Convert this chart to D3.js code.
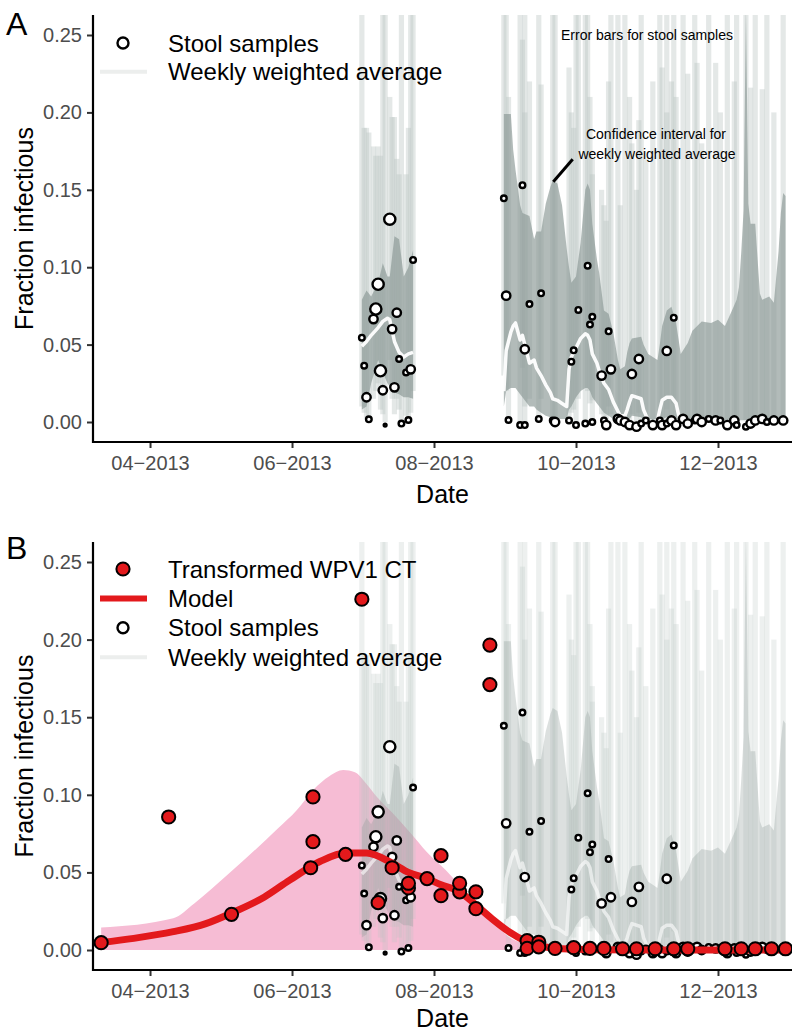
<!DOCTYPE html>
<html><head><meta charset="utf-8">
<script src="https://cdn.jsdelivr.net/npm/d3@7"></script>
<style>
body{margin:0;background:#fff;}
svg{display:block;font-family:"Liberation Sans",Arial,Helvetica,sans-serif;}
</style></head><body>
<svg id="chart" width="796" height="1033"></svg>
<script>
// ---------------- DATA ----------------
const yTicks = [0, 0.05, 0.10, 0.15, 0.20, 0.25];
const xTicks = ["2013-04-01", "2013-06-01", "2013-08-01", "2013-10-01", "2013-12-01"];

// Stool samples: [date, fraction infectious, weight, error-bar low, error-bar high]
const stoolJuly = [
  ["2013-07-01",0.0545,2,0.010,0.30],["2013-07-02",0.0364,2,0.006,0.19],
  ["2013-07-03",0.0160,3,0.002,0.19],["2013-07-04",0.0017,2,0.000,0.187],
  ["2013-07-06",0.0665,3,0.015,0.178],["2013-07-07",0.0730,4,0.020,0.172],
  ["2013-07-08",0.0890,4,0.025,0.178],["2013-07-09",0.0331,4,0.008,0.172],
  ["2013-07-10",0.0205,3,0.005,0.30],["2013-07-11",-0.0020,1,0.000,0.30],
  ["2013-07-13",0.1310,4,0.040,0.21],["2013-07-14",0.0600,3,0.015,0.197],
  ["2013-07-15",0.0224,3,0.005,0.197],["2013-07-16",0.0706,3,0.015,0.170],
  ["2013-07-17",0.0407,2,0.008,0.160],["2013-07-18",-0.0010,2,0.000,0.30],
  ["2013-07-20",0.0320,2,0.004,0.160],["2013-07-21",0.0013,2,0.000,0.190],
  ["2013-07-22",0.0340,3,0.006,0.30],["2013-07-23",0.1047,2,0.020,0.30]
];
const stoolAutumn = [
  ["2013-08-31",0.1445,2,0.030,0.30],["2013-09-01",0.0816,3,0.020,0.30],
  ["2013-09-02",0.0013,2,0,0.21],["2013-09-07",-0.0020,2,0,0.30],
  ["2013-09-08",0.1530,2,0.035,0.247],["2013-09-09",-0.0020,2,0,0.30],
  ["2013-09-09",0.0470,3,0.010,0.20],["2013-09-11",0.0762,2,0.015,0.22],
  ["2013-09-15",0.0020,2,0,0.30],["2013-09-16",0.0831,2,0.015,0.218],
  ["2013-09-21",0.0010,2,0,0.30],["2013-09-22",0.0000,3,0,0.30],
  ["2013-09-28",0.0010,2,0,0.229],["2013-09-29",0.0390,2,0.006,0.20],
  ["2013-09-30",0.0463,2,0.008,0.19],["2013-10-01",-0.0020,2,0,0.30],
  ["2013-10-02",0.0724,2,0.015,0.30],["2013-10-05",-0.0010,2,0,0.30],
  ["2013-10-06",0.1010,2,0.020,0.30],["2013-10-07",0.0630,2,0.012,0.21],
  ["2013-10-08",0.0680,2,0.014,0.17],["2013-10-08",0.0000,2,0,0.16],
  ["2013-10-12",0.0300,3,0.005,0.15],["2013-10-13",0.0010,2,0,0.14],
  ["2013-10-14",-0.0020,3,0,0.13],["2013-10-15",0.0586,2,0.010,0.22],
  ["2013-10-16",0.0340,3,0.005,0.30],["2013-10-19",0.0020,3,0,0.30],
  ["2013-10-20",0.0010,3,0,0.14],["2013-10-22",0.0000,3,0,0.30],
  ["2013-10-24",-0.0020,3,0,0.21],["2013-10-25",0.0310,3,0.005,0.18],
  ["2013-10-27",-0.0030,3,0,0.15],["2013-10-28",0.0407,3,0.006,0.195],
  ["2013-10-29",-0.0010,2,0,0.30],["2013-10-31",0.0010,2,0,0.17],
  ["2013-11-03",-0.0020,3,0,0.22],["2013-11-06",0.0010,2,0,0.30],
  ["2013-11-07",-0.0020,3,0,0.229],["2013-11-09",0.0459,3,0.008,0.20],
  ["2013-11-09",-0.0010,2,0,0.30],["2013-11-11",0.0010,3,0,0.22],
  ["2013-11-12",0.0674,2,0.012,0.30],["2013-11-13",-0.0020,3,0,0.21],
  ["2013-11-16",0.0020,3,0,0.30],["2013-11-18",-0.0010,3,0,0.225],
  ["2013-11-21",0.0010,2,0,0.30],["2013-11-22",0.0020,3,0,0.232],
  ["2013-11-24",0.0000,3,0,0.18],["2013-11-27",0.0020,2,0,0.30],
  ["2013-11-30",0.0010,3,0,0.232],["2013-12-02",0.0010,2,0,0.20],
  ["2013-12-05",-0.0020,3,0,0.30],["2013-12-08",0.0010,3,0,0.22],
  ["2013-12-09",-0.0020,2,0,0.30],["2013-12-13",-0.0030,2,0,0.30],
  ["2013-12-15",-0.0010,3,0,0.216],["2013-12-17",0.0010,3,0,0.30],
  ["2013-12-20",0.0020,3,0,0.215],["2013-12-22",0.0000,2,0,0.30],
  ["2013-12-25",0.0010,3,0,0.20],["2013-12-29",0.0010,3,0,0.30]
];

// Weekly weighted average: [date, CI low, mean, CI high]
const wwaJuly = [
  ["2013-07-01",0.008,0.049,0.079],["2013-07-03",0.010,0.052,0.085],
  ["2013-07-05",0.025,0.056,0.081],["2013-07-08",0.040,0.061,0.090],
  ["2013-07-10",0.032,0.065,0.1025],["2013-07-12",0.025,0.067,0.094],
  ["2013-07-13",0.023,0.066,0.094],["2013-07-15",0.019,0.052,0.120],
  ["2013-07-17",0.018,0.045,0.118],["2013-07-19",0.016,0.042,0.094],
  ["2013-07-21",0.016,0.044,0.100],["2013-07-23",0.015,0.045,0.111]
];
const wwaAutumn = [
  ["2013-08-31",0.010,0.020,0.199],["2013-09-01",0.020,0.046,0.199],
  ["2013-09-03",0.022,0.058,0.199],["2013-09-04",0.022,0.062,0.176],
  ["2013-09-05",0.022,0.064,0.163],["2013-09-07",0.018,0.053,0.140],
  ["2013-09-08",0.016,0.056,0.135],["2013-09-11",0.010,0.038,0.133],
  ["2013-09-13",0.010,0.040,0.118],["2013-09-14",0.008,0.035,0.123],
  ["2013-09-16",0.006,0.030,0.123],["2013-09-18",0.004,0.024,0.141],
  ["2013-09-20",0.003,0.019,0.152],["2013-09-21",0.002,0.015,0.156],
  ["2013-09-23",0.002,0.014,0.154],["2013-09-25",0.002,0.012,0.140],
  ["2013-09-27",0.002,0.010,0.112],["2013-09-28",0.008,0.034,0.100],
  ["2013-09-29",0.010,0.042,0.090],["2013-10-01",0.016,0.048,0.094],
  ["2013-10-03",0.020,0.054,0.116],["2013-10-05",0.022,0.057,0.150],
  ["2013-10-06",0.022,0.056,0.154],["2013-10-07",0.020,0.053,0.150],
  ["2013-10-08",0.016,0.044,0.128],["2013-10-10",0.012,0.038,0.105],
  ["2013-10-11",0.010,0.033,0.096],["2013-10-13",0.006,0.025,0.072],
  ["2013-10-15",0.004,0.021,0.070],["2013-10-17",0.002,0.013,0.058],
  ["2013-10-19",0.001,0.007,0.040],["2013-10-20",0.000,0.004,0.034],
  ["2013-10-22",0.000,0.004,0.036],["2013-10-23",0.001,0.008,0.045],
  ["2013-10-24",0.002,0.013,0.051],["2013-10-25",0.004,0.017,0.054],
  ["2013-10-29",0.003,0.015,0.055],["2013-10-30",0.001,0.008,0.050],
  ["2013-11-01",0.000,0.001,0.044],["2013-11-03",0.000,0.000,0.042],
  ["2013-11-05",0.000,0.001,0.040],["2013-11-06",0.001,0.008,0.050],
  ["2013-11-07",0.002,0.014,0.062],["2013-11-09",0.003,0.016,0.072],
  ["2013-11-11",0.003,0.016,0.0745],["2013-11-13",0.002,0.012,0.064],
  ["2013-11-14",0.001,0.005,0.054],["2013-11-15",0.000,0.000,0.044],
  ["2013-11-18",0.000,0.000,0.051],["2013-11-20",0.000,0.000,0.059],
  ["2013-11-24",0.000,0.000,0.065],["2013-11-28",0.000,0.000,0.064],
  ["2013-12-01",0.000,0.000,0.066],["2013-12-04",0.000,0.000,0.062],
  ["2013-12-07",0.000,0.000,0.072],["2013-12-09",0.000,0.000,0.079],
  ["2013-12-10",0.000,0.000,0.087],["2013-12-11",0.000,0.000,0.110],
  ["2013-12-12",0.000,0.000,0.137],["2013-12-13",0.000,0.000,0.270],
  ["2013-12-14",0.000,0.000,0.141],["2013-12-15",0.000,0.000,0.128],
  ["2013-12-17",0.000,0.000,0.128],["2013-12-19",0.000,0.000,0.083],
  ["2013-12-20",0.000,0.000,0.079],["2013-12-23",0.000,0.000,0.081],
  ["2013-12-25",0.000,0.000,0.077],["2013-12-27",0.000,0.000,0.110],
  ["2013-12-28",0.000,0.000,0.135],["2013-12-29",0.000,0.000,0.148],
  ["2013-12-30",0.000,0.000,0.146]
];

// Transformed WPV1 CT points: [date, fraction]
const ctPoints = [
  ["2013-03-11",0.0047],["2013-04-09",0.0857],["2013-05-06",0.0230],
  ["2013-06-09",0.0530],["2013-06-10",0.0698],["2013-06-10",0.0986],
  ["2013-06-24",0.0616],["2013-07-01",0.2260],["2013-07-08",0.0305],
  ["2013-07-14",0.0530],["2013-07-21",0.0400],["2013-07-21",0.0430],
  ["2013-07-29",0.0460],["2013-08-04",0.0350],["2013-08-04",0.0608],
  ["2013-08-12",0.0375],["2013-08-12",0.0430],["2013-08-19",0.0266],
  ["2013-08-19",0.0375],["2013-08-25",0.1710],["2013-08-25",0.1965],
  ["2013-09-10",0.0060],["2013-09-10",0.0010],["2013-09-15",0.0050],
  ["2013-09-15",0.0020],["2013-09-22",0.0010],["2013-09-30",0.0015],
  ["2013-10-07",0.0010],["2013-10-13",0.0010],["2013-10-21",0.0008],
  ["2013-10-27",0.0008],["2013-11-04",0.0008],["2013-11-12",0.0008],
  ["2013-11-18",0.0008],["2013-12-04",0.0008],["2013-12-11",0.0008],
  ["2013-12-17",0.0008],["2013-12-24",0.0008],["2013-12-30",0.0008]
];

// Model fit: [date, value]
const modelFit = [
  ["2013-03-11",0.0048],["2013-03-25",0.0075],["2013-04-11",0.0118],
  ["2013-04-25",0.0170],["2013-05-07",0.0245],["2013-05-20",0.0340],
  ["2013-05-31",0.0450],["2013-06-13",0.0570],["2013-06-24",0.0625],
  ["2013-07-03",0.0625],["2013-07-14",0.0560],["2013-07-21",0.0500],
  ["2013-07-29",0.0460],["2013-08-04",0.0420],["2013-08-12",0.0376],
  ["2013-08-19",0.0290],["2013-08-26",0.0200],["2013-09-02",0.0120],
  ["2013-09-09",0.0060],["2013-09-16",0.0025],["2013-09-25",0.0008],
  ["2013-10-10",0.0002],["2013-11-01",0.0000],["2013-12-31",0.0000]
];
// Model confidence band: [date, low, high]
const modelBand = [
  ["2013-03-11",0,0.0145],["2013-04-11",0,0.0205],["2013-04-20",0,0.0300],
  ["2013-05-05",0,0.0494],["2013-05-26",0,0.0784],["2013-06-03",0,0.0900],
  ["2013-06-10",0,0.1030],["2013-06-17",0,0.1120],["2013-06-23",0,0.1160],
  ["2013-06-28",0,0.1145],["2013-07-03",0,0.1070],["2013-07-08",0,0.0977],
  ["2013-07-15",0,0.0870],["2013-07-22",0,0.0752],["2013-07-29",0,0.0630],
  ["2013-08-06",0,0.0515],["2013-08-13",0,0.0400],["2013-08-20",0,0.0279],
  ["2013-08-27",0,0.0170],["2013-09-02",0,0.0086],["2013-09-09",0,0.0040],
  ["2013-09-16",0,0.0015],["2013-09-25",0,0.0004],["2013-10-10",0,0.0000]
];

// ---------------- CHART ----------------
const parse = d3.utcParse("%Y-%m-%d");
const svg = d3.select("#chart");
const x = d3.scaleUtc()
  .domain([new Date(Date.UTC(2013,2,7,12)), new Date(Date.UTC(2014,0,1,19))])
  .range([93, 792]);
const rScale = d3.scaleLinear().domain([1,4]).range([1.4,5.6]);

const stool = stoolJuly.concat(stoolAutumn).map(d => ({date: parse(d[0]), v: d[1], w: d[2], lo: d[3], hi: d[4]}));
const toW = a => a.map(d => ({date: parse(d[0]), lo: d[1], m: d[2], hi: d[3]}));
const wwaSegs = [toW(wwaJuly), toW(wwaAutumn)];
const ct = ctPoints.map(d => ({date: parse(d[0]), v: d[1]}));
const model = modelFit.map(d => ({date: parse(d[0]), v: d[1]}));
const band = modelBand.map(d => ({date: parse(d[0]), lo: d[1], hi: d[2]}));

const panels = [
  {id: "A", top: 15, bottom: 442, letterY: 35, y: d3.scaleLinear().domain([0,0.25]).range([422,35]),
   barOp: 0.38, ciOp: 0.66, lineOp: 0.95, model: false},
  {id: "B", top: 542, bottom: 970, letterY: 559, y: d3.scaleLinear().domain([0,0.25]).range([950,562]),
   barOp: 0.25, ciOp: 0.3, lineOp: 0.6, model: true}
];

const RED = "#e3191c";

panels.forEach(p => {
  const y = p.y;
  const g = svg.append("g");
  const clipId = "clip" + p.id;
  svg.append("clipPath").attr("id", clipId).append("rect")
    .attr("x", 93).attr("y", p.top).attr("width", 792 - 93).attr("height", p.bottom - p.top);
  const plot = g.append("g").attr("clip-path", `url(#${clipId})`);

  if (p.model) {
    plot.append("path").datum(band)
      .attr("d", d3.area().x(d => x(d.date)).y0(d => y(d.lo)).y1(d => y(d.hi)).curve(d3.curveMonotoneX))
      .attr("fill", "#f6bcd4");
  }
  // error bars
  plot.append("g").selectAll("rect").data(stool).join("rect")
    .attr("x", d => x(d.date) - 2.6).attr("width", 5.2)
    .attr("y", d => y(d.hi)).attr("height", d => y(d.lo) - y(d.hi))
    .attr("fill", "#b8c2bf").attr("fill-opacity", p.barOp);
  // CI of weekly weighted average
  wwaSegs.forEach(seg => {
    plot.append("path").datum(seg)
      .attr("d", d3.area().x(d => x(d.date)).y0(d => y(d.lo)).y1(d => y(d.hi)))
      .attr("fill", "#8a9894").attr("fill-opacity", p.ciOp);
  });
  wwaSegs.forEach(seg => {
    plot.append("path").datum(seg)
      .attr("d", d3.line().x(d => x(d.date)).y(d => y(d.m)))
      .attr("fill", "none").attr("stroke", "#ffffff").attr("stroke-opacity", p.lineOp)
      .attr("stroke-width", 3.5).attr("stroke-linejoin", "round");
  });
  // stool points
  plot.append("g").selectAll("circle").data(stool).join("circle")
    .attr("cx", d => x(d.date)).attr("cy", d => y(d.v)).attr("r", d => rScale(d.w))
    .attr("fill", "#fff").attr("stroke", "#000").attr("stroke-width", 2.4);

  if (p.model) {
    plot.append("path").datum(model)
      .attr("d", d3.line().x(d => x(d.date)).y(d => y(d.v)).curve(d3.curveMonotoneX))
      .attr("fill", "none").attr("stroke", RED).attr("stroke-width", 7).attr("stroke-linecap", "butt");
    plot.append("g").selectAll("circle").data(ct).join("circle")
      .attr("cx", d => x(d.date)).attr("cy", d => y(d.v)).attr("r", 6.6)
      .attr("fill", RED).attr("stroke", "#000").attr("stroke-width", 2);
  }

  // axes
  const ya = g.append("g").attr("transform", "translate(93,0)")
    .call(d3.axisLeft(y).tickValues(yTicks).tickFormat(d3.format(".2f")).tickSize(6).tickPadding(5));
  const xa = g.append("g").attr("transform", `translate(0,${p.bottom})`)
    .call(d3.axisBottom(x).tickValues(xTicks.map(parse)).tickFormat(d3.utcFormat("%m\u2212%Y")).tickSize(6).tickPadding(8));
  [ya, xa].forEach(a => {
    a.select(".domain").remove();
    a.selectAll(".tick line").attr("stroke", "#333").attr("stroke-width", 2);
    a.selectAll(".tick text").attr("fill", "#4d4d4d").style("font-size", "20px")
      .style("font-family", '"Liberation Sans",Arial,sans-serif');
  });
  g.append("line").attr("x1", 93).attr("x2", 93).attr("y1", p.top).attr("y2", p.bottom + 1)
    .attr("stroke", "#000").attr("stroke-width", 2.2);
  g.append("line").attr("x1", 92).attr("x2", 792).attr("y1", p.bottom).attr("y2", p.bottom)
    .attr("stroke", "#000").attr("stroke-width", 2.2);

  g.append("text").attr("x", 442.5).attr("y", p.model ? p.bottom + 57 : p.bottom + 61).attr("text-anchor", "middle")
    .style("font-size", "25px").text("Date");
  g.append("text").attr("transform", `translate(33,${(p.top + p.bottom) / 2}) rotate(-90)`)
    .attr("text-anchor", "middle").style("font-size", "25px").text("Fraction infectious");
  g.append("text").attr("x", 6).attr("y", p.letterY).style("font-size", "32px").text(p.id);

  // legends
  const leg = g.append("g");
  const items = p.model
    ? [["pt", "Transformed WPV1 CT"], ["line", "Model"], ["circ", "Stool samples"], ["gray", "Weekly weighted average"]]
    : [["circ", "Stool samples"], ["gray", "Weekly weighted average"]];
  const y0 = p.model ? 569 : 43;
  const step = p.model ? 29.4 : 28.8;
  items.forEach((it, i) => {
    const yy = y0 + i * step;
    if (it[0] === "pt") leg.append("circle").attr("cx", 123).attr("cy", yy).attr("r", 6.6)
      .attr("fill", RED).attr("stroke", "#000").attr("stroke-width", 2);
    if (it[0] === "circ") leg.append("circle").attr("cx", 123).attr("cy", yy).attr("r", 5.5)
      .attr("fill", "#fff").attr("stroke", "#000").attr("stroke-width", 2.4);
    if (it[0] === "line") leg.append("line").attr("x1", 100).attr("x2", 147).attr("y1", yy).attr("y2", yy)
      .attr("stroke", RED).attr("stroke-width", 6);
    if (it[0] === "gray") leg.append("line").attr("x1", 100).attr("x2", 147).attr("y1", yy).attr("y2", yy)
      .attr("stroke", "#eceeed").attr("stroke-width", 4);
    leg.append("text").attr("x", 168).attr("y", yy + 8.6).style("font-size", "24px").text(it[1]);
  });

  if (!p.model) {
    const ann = g.append("g").style("font-size", "14px").attr("text-anchor", "middle");
    ann.append("text").attr("x", 647).attr("y", 40).text("Error bars for stool samples");
    ann.append("text").attr("x", 656).attr("y", 138.5).text("Confidence interval for");
    ann.append("text").attr("x", 657).attr("y", 158.5).text("weekly weighted average");
    g.append("line").attr("x1", 572.7).attr("y1", 159.3).attr("x2", 553.3).attr("y2", 181.7)
      .attr("stroke", "#000").attr("stroke-width", 3);
  }
});
</script>
</body></html>
